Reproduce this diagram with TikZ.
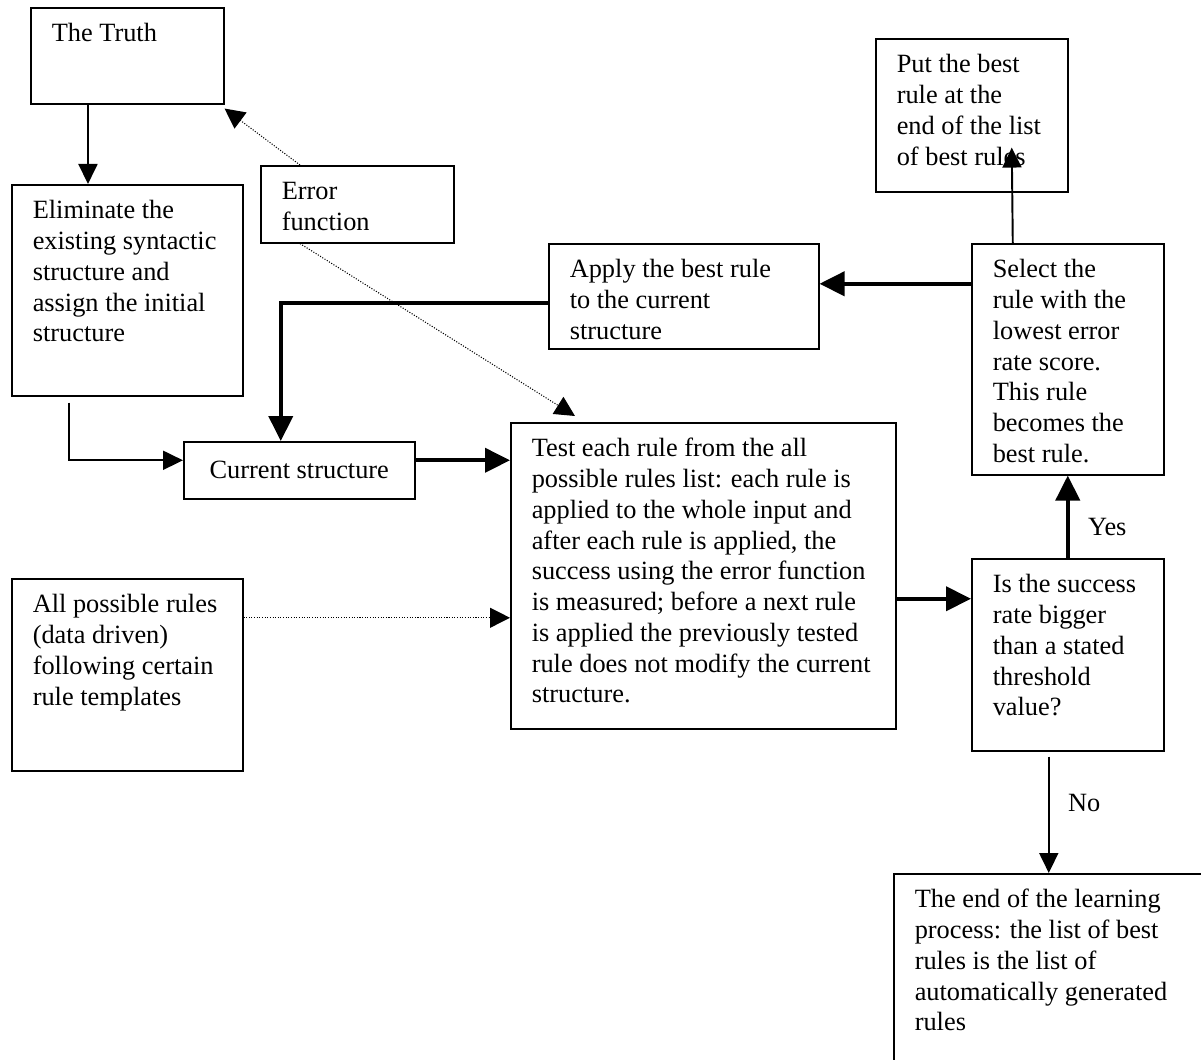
\documentclass[tikz,border=0pt]{standalone}
\usepackage{fontspec}
\setmainfont{Liberation Serif}
\usetikzlibrary{arrows.meta}

% 方框内文字：宽、高、内容
\newcommand{\boxtext}[3]{\parbox[t][#2][t]{#1}{\raggedright\rule{0pt}{0.48cm}#3}}

\begin{document}
\begin{tikzpicture}[x=0.02cm, y=-0.02cm, font=\fontsize{15}{17.5}\selectfont,
		box/.style={draw, line width=0.9pt, anchor=north west, inner xsep=0.42cm, inner ysep=0.2cm},
		thinarr/.style={line width=1.1pt, -{Triangle[length=0.4cm, width=0.38cm]}},
		thickarr/.style={line width=2.3pt, -{Triangle[length=0.5cm, width=0.48cm]}},
		dotarr/.style={line width=0.6pt, dash pattern=on 0.6pt off 0.9pt, -{Triangle[length=0.4cm, width=0.4cm]}}]
		
		\useasboundingbox (0,0) rectangle (1201,1060);
		\clip (0,0) rectangle (1201,1060);
		
		% 方框
		\node[box] (truth) at (30,7) {\boxtext{3.02cm}{1.52cm}{The Truth}};
		\node[box] (elim) at (11,184) {\boxtext{3.78cm}{3.82cm}{Eliminate the\\ existing syntactic\\ structure and\\ assign the initial\\ structure}};
		\node[box] (errf) at (260,165) {\boxtext{3.02cm}{1.14cm}{Error\\ function}};
		\node[box] (apply) at (548,243) {\boxtext{4.56cm}{1.7cm}{Apply the best rule\\ to the current\\ structure}};
		\node[box] (put) at (875,38) {\boxtext{3.0cm}{2.66cm}{Put the best\\ rule at the\\ end of the list\\ of best rules}};
		\node[box] (select) at (971,243) {\boxtext{3.0cm}{4.22cm}{Select the\\ rule with the\\ lowest error\\ rate score.\\ This rule\\ becomes the\\ best rule.}};
		\node[draw, line width=0.9pt, anchor=north west, minimum width=4.62cm, minimum height=1.14cm] (current) at (183,441) {Current structure};
		\node[box] (test) at (510,422) {\boxtext{6.86cm}{5.72cm}{Test each rule from the all\\ possible rules list: each rule is\\ applied to the whole input and\\ after each rule is applied, the\\ success using the error function\\ is measured; before a next rule\\ is applied the previously tested\\ rule does not modify the current\\ structure.}};
		\node[box] (is) at (971,558) {\boxtext{3.0cm}{3.44cm}{Is the success\\ rate bigger\\ than a stated\\ threshold\\ value?}};
		\node[box] (allr) at (11,578) {\boxtext{3.78cm}{3.44cm}{All possible rules\\ (data driven)\\ following certain\\ rule templates}};
		\node[box] (endbox) at (893,873) {\boxtext{5.76cm}{4.0cm}{The end of the learning\\ process: the list of best\\ rules is the list of\\ automatically generated\\ rules}};
		
		% 细箭头
		\draw[thinarr] ([xshift=1.16cm]truth.south west) -- ([xshift=1.54cm]elim.north west);
		\draw[thinarr] ([xshift=1.16cm, yshift=-0.12cm]elim.south west) |- ([yshift=0.2cm]current.west);
		\draw[thinarr] ([xshift=-1.1cm]select.north) -- ([xshift=0.8cm, yshift=0.9cm]put.south);
		\draw[thinarr] ([xshift=-0.38cm, yshift=-0.1cm]is.south) -- ([xshift=-0.38cm]is.south |- endbox.north)
		node[pos=0.4, right, xshift=0.25cm] {No};
		
		% 粗箭头
		\draw[thickarr] ([yshift=0.2cm]current.east) -- ([yshift=0.2cm]current.east -| test.west);
		\draw[thickarr] ([yshift=-0.46cm]test.east) -- ([yshift=-0.46cm]test.east -| is.west);
		\draw[thickarr] (is.north) -- (select.south)
		node[pos=0.37, right, xshift=0.25cm] {Yes};
		\draw[thickarr] ([yshift=0.25cm]apply.east -| select.west) -- ([yshift=0.25cm]apply.east);
		\draw[thickarr] ([yshift=-0.13cm]apply.west) -| ([xshift=-0.37cm]current.north);
		
		% 点线
		\draw[dotarr] ([yshift=1.14cm]allr.east) -- ([yshift=1.14cm]allr.east -| test.west);
		\draw[dotarr] ([xshift=0.8cm]errf.north west) -- ([yshift=-0.08cm]truth.south east);
		\draw[dotarr] ([xshift=0.8cm]errf.south west) -- ([shift={(1.3cm,0.12cm)}]test.north west);
	\end{tikzpicture}
\end{document}
